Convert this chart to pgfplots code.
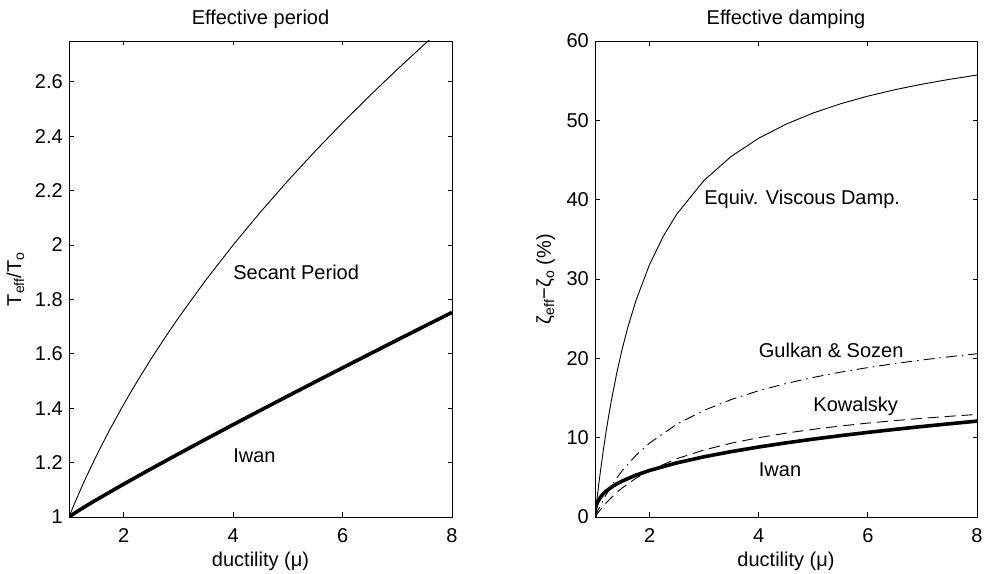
\documentclass[border=0pt]{standalone}
\usepackage{pgfplots}
\pgfplotsset{compat=1.18}
\usepackage{fontspec}
\setmainfont{Liberation Sans}
\newcommand{\ff}{\fontsize{20bp}{24bp}\selectfont}

\pgfplotstableread{
x y
1 1
1.02 1.00995
1.05 1.02470
1.1 1.04881
1.15 1.07238
1.2 1.09545
1.25 1.11803
1.3 1.14018
1.4 1.18322
1.5 1.22474
1.6 1.26491
1.75 1.32288
2 1.41421
2.25 1.5
2.5 1.58114
2.75 1.65831
3 1.73205
3.5 1.87083
4 2
4.5 2.12132
5 2.23607
5.5 2.34521
6 2.44949
6.5 2.54951
7 2.64575
7.5 2.73861
8 2.82843
}\secant
\pgfplotstableread{
x y
1 1
1.1 1.0139
1.2 1.0267
1.3 1.0391
1.5 1.0631
2 1.1210
2.5 1.1771
3 1.2320
3.5 1.2861
4 1.3395
4.5 1.3923
5 1.4447
5.5 1.4968
6 1.5484
6.5 1.5997
7 1.6508
7.5 1.7017
8 1.7522
}\iwanT
\pgfplotstableread{
x y
1 0
1.02 1.248
1.05 3.032
1.1 5.787
1.15 8.304
1.2 10.610
1.25 12.732
1.3 14.691
1.4 18.189
1.5 21.221
1.6 23.873
1.75 27.284
2 31.831
2.25 35.368
2.5 38.197
3 42.441
3.5 45.473
4 47.746
4.5 49.515
5 50.930
5.5 52.087
6 53.052
6.5 53.868
7 54.567
7.5 55.174
8 55.704
}\evd
\pgfplotstableread{
x y
1 0
1.05 0.767
1.1 1.481
1.2 2.773
1.3 3.913
1.4 4.929
1.5 5.841
1.75 7.769
2 9.323
2.5 11.699
3 13.453
3.5 14.817
4 15.916
4.5 16.826
5 17.596
5.5 18.258
6 18.836
6.5 19.346
7 19.800
7.5 20.208
8 20.577
}\gulkan
\pgfplotstableread{
x y
1 0
1.05 0.482
1.1 0.931
1.2 1.743
1.3 2.459
1.4 3.097
1.5 3.670
1.75 4.881
2 5.858
2.5 7.351
3 8.453
3.5 9.310
4 10.000
4.5 10.572
5 11.056
5.5 11.472
6 11.835
6.5 12.155
7 12.441
7.5 12.697
8 12.929
}\kowalsky
\pgfplotstableread{
x y
1 0
1.001 0.452
1.005 0.822
1.01 1.063
1.02 1.375
1.05 1.932
1.1 2.498
1.15 2.904
1.2 3.231
1.3 3.756
1.4 4.178
1.5 4.539
1.75 5.276
2 5.870
2.5 6.823
3 7.592
3.5 8.247
4 8.824
4.5 9.343
5 9.818
5.5 10.256
6 10.665
6.5 11.048
7 11.412
7.5 11.755
8 12.083
}\iwanD

\begin{document}
\begin{tikzpicture}
\useasboundingbox (0,0) rectangle (984bp,574bp);
\pgfplotsset{
 myax/.style={
  scale only axis, height=476bp,
  xmin=1, xmax=8, xtick={2,4,6,8},
  tick align=inside, major tick length=4.5bp,
  axis line style={line width=0.9bp},
  every tick/.style={black, line width=0.8bp},
  font=\ff,
  /pgf/number format/assume math mode=true,
  xticklabel style={font=\ff, anchor=base, yshift=-25bp, inner sep=0pt},
  yticklabel style={font=\ff, anchor=east, xshift=-6bp, inner sep=0pt},
  every axis title/.style={font=\ff, at={(0.5,1)}, anchor=base, yshift=16.7bp, inner sep=0pt},
  every axis x label/.style={font=\ff, at={(0.5,0)}, anchor=base, yshift=-49.7bp, inner sep=0pt},
  xlabel={ductility (μ)},
  clip=true,
 },
 thin/.style={black, line width=0.9bp},
 thickl/.style={black, line width=3.6bp, line join=round},
}
\begin{axis}[myax, width=383bp, at={(69bp,57bp)}, anchor=south west,
  ymin=1, ymax=2.75, ytick={1,1.2,1.4,1.6,1.8,2,2.2,2.4,2.6},
  title={Effective period},
  every axis y label/.style={font=\ff, at={(-0.1253,0.5)}, rotate=90, anchor=base, inner sep=0pt},
  ylabel={T\textsubscript{eff}/T\textsubscript{o}}]
\addplot[thin] table[x=x,y=y] {\secant};
\addplot[thickl] table[x=x,y=y] {\iwanT};
\node[font=\ff, anchor=west, inner sep=0pt] at (axis cs:4,1.9) {Secant Period};
\node[font=\ff, anchor=west, inner sep=0pt] at (axis cs:4,1.225) {Iwan};
\end{axis}
\begin{axis}[myax, width=382bp, at={(595bp,57bp)}, anchor=south west,
  ymin=0, ymax=60, ytick={0,10,20,30,40,50,60},
  title={Effective damping},
  every axis y label/.style={font=\ff, at={(-0.1152,0.5)}, rotate=90, anchor=base, inner sep=0pt},
  ylabel={ζ\textsubscript{eff}−ζ\textsubscript{o} (\%)}]
\addplot[thin] table[x=x,y=y] {\evd};
\addplot[thin, dash pattern=on 11bp off 5bp on 1.5bp off 5bp] table[x=x,y=y] {\gulkan};
\addplot[thin, dash pattern=on 11bp off 6bp] table[x=x,y=y] {\kowalsky};
\addplot[thickl] table[x=x,y=y] {\iwanD};
\node[font=\ff, anchor=west, inner sep=0pt] at (axis cs:3,40) {Equiv. Viscous Damp.};
\node[font=\ff, anchor=west, inner sep=0pt] at (axis cs:4,21) {Gulkan \& Sozen};
\node[font=\ff, anchor=west, inner sep=0pt] at (axis cs:5,14) {Kowalsky};
\node[font=\ff, anchor=west, inner sep=0pt] at (axis cs:4,6) {Iwan};
\end{axis}
\end{tikzpicture}
\end{document}
